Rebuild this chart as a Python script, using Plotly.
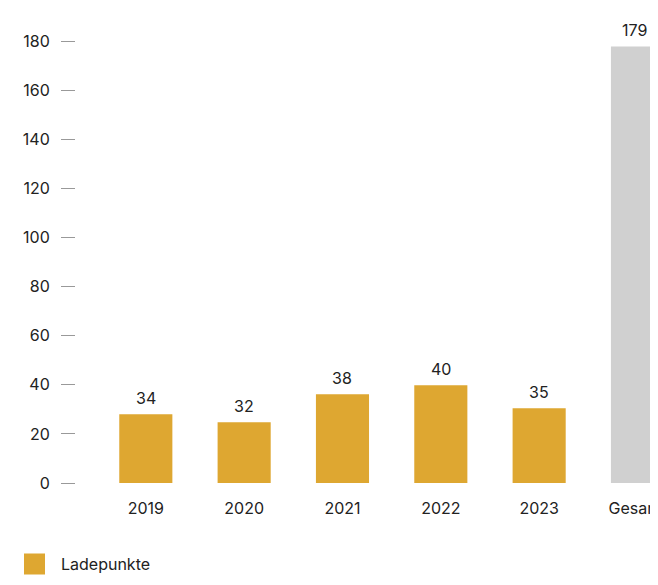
import plotly.graph_objects as go

# categories and values
categories = ["2019", "2020", "2021", "2022", "2023", "Gesamt"]
bar_heights = [28, 24.8, 36.2, 39.9, 30.5, 178]
value_labels = ["34", "32", "38", "40", "35", "179"]
bar_colors = ["#DEA731"] * 5 + ["#D0D0D0"]
y_ticks = [0, 20, 40, 60, 80, 100, 120, 140, 160, 180]

FONT = "Inter, Roboto, sans-serif"
TEXT = "#222222"

fig = go.Figure()
fig.add_trace(go.Bar(
    x=categories, y=bar_heights,
    marker=dict(color=bar_colors, line=dict(width=0)),
    showlegend=False, hoverinfo="skip",
))
# legend key only
fig.add_trace(go.Scatter(
    x=[None], y=[None], mode="markers", name="Ladepunkte",
    marker=dict(symbol="square", size=16, color="#DEA731",
                line=dict(color="#DEA731", width=5)),
))

for i, (h, lab) in enumerate(zip(bar_heights, value_labels)):
    # last label sits at the window edge, nudge it so it stays readable
    shift = -3 if i == len(categories) - 1 else 0
    fig.add_annotation(x=i, y=h, text=lab, showarrow=False,
                       yanchor="bottom", yshift=4, xshift=shift,
                       font=dict(family=FONT, size=16, color=TEXT))

# page body adds an 8px margin; the chart runs off the right edge like the original
H = 569
fig.update_layout(
    width=658, height=H,
    margin=dict(l=68, r=0, t=9, b=H - 475, autoexpand=False),
    plot_bgcolor="white", paper_bgcolor="white",
    bargap=0.46,
    font=dict(family=FONT, size=16, color=TEXT),
    xaxis=dict(type="category", range=[-0.71, 5.29], showgrid=False,
               showline=False, zeroline=False, ticks="", automargin=False,
               ticklabelstandoff=14, tickfont=dict(size=16, color=TEXT)),
    yaxis=dict(range=[0, 190], tickvals=y_ticks, showgrid=False,
               showline=False, zeroline=False, ticks="outside",
               ticklen=14, tickwidth=1, tickcolor="#999999", automargin=False,
               ticklabelstandoff=8, tickfont=dict(size=16, color=TEXT)),
    legend=dict(orientation="h", xref="container", yref="container",
                x=0.0, y=(H - 556) / H, xanchor="left", yanchor="middle",
                itemwidth=43,
                font=dict(family=FONT, size=16, color=TEXT)),
)

fig.write_html("out.html")
